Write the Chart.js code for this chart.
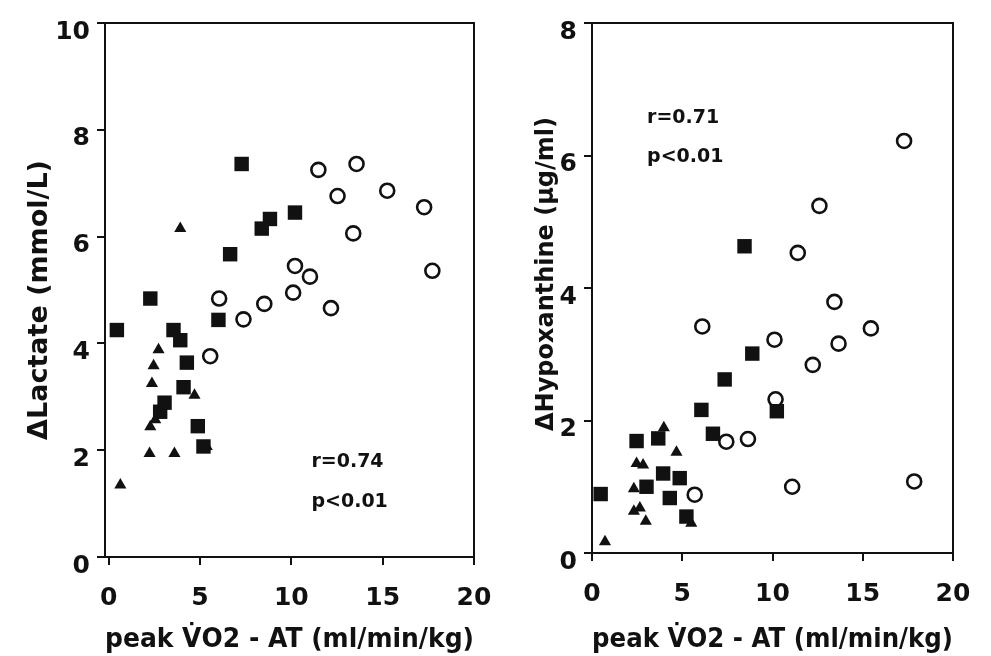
<!DOCTYPE html>
<html>
<head>
<meta charset="utf-8">
<script src="https://cdn.jsdelivr.net/npm/chart.js@4"></script>
<style>
  html, body { margin: 0; padding: 0; background: #fff; }
  #wrap { position: relative; width: 991px; height: 656px; }
  .panel { position: absolute; top: 0; height: 656px; }
  #left { left: 0; width: 495px; }
  #right { left: 495px; width: 496px; }
</style>
</head>
<body>
<div id="wrap">
  <div class="panel" id="left"><canvas id="lactateChart"></canvas></div>
  <div class="panel" id="right"><canvas id="hypoxChart"></canvas></div>
</div>
<script>
// x = peak VO2 - AT (ml/min/kg), y = delta value
const xTicks = [0, 5, 10, 15, 20];
const xTitle = "peak V\u0307O2 - AT (ml/min/kg)";

// ΔLactate (mmol/L)
const lactateTicks = [0, 2, 4, 6, 8, 10];
const lactateSquares = [
  [7.28, 7.36], [8.83, 6.33], [8.38, 6.15], [10.2, 6.45], [6.65, 5.67],
  [2.28, 4.84], [6.01, 4.44], [0.45, 4.25], [3.55, 4.25], [3.92, 4.06],
  [4.28, 3.64], [4.1, 3.18], [3.06, 2.89], [2.82, 2.72], [4.88, 2.45],
  [5.19, 2.07],
];
const lactateTriangles = [
  [3.92, 6.15], [2.73, 3.88], [2.46, 3.58], [2.37, 3.25], [4.7, 3.03],
  [2.55, 2.57], [2.28, 2.44], [5.37, 2.07], [2.24, 1.94], [3.6, 1.94],
  [0.64, 1.35],
];
const lactateCircles = [
  [11.48, 7.25], [13.57, 7.36], [12.53, 6.76], [15.25, 6.86], [17.27, 6.55],
  [13.39, 6.06], [10.2, 5.45], [11.02, 5.25], [17.72, 5.36], [6.05, 4.84],
  [10.1, 4.95], [8.52, 4.74], [7.38, 4.45], [12.17, 4.66], [5.56, 3.76],
];

// ΔHypoxanthine (µg/ml)
const hypoxTicks = [0, 2, 4, 6, 8];
const hypoxSquares = [
  [8.45, 4.63], [8.88, 3.01], [7.35, 2.62], [6.06, 2.16], [10.24, 2.14],
  [6.7, 1.8], [2.47, 1.69], [3.67, 1.73], [3.94, 1.2], [4.86, 1.13],
  [0.48, 0.89], [3.02, 1.0], [4.31, 0.83], [5.23, 0.55],
];
const hypoxTriangles = [
  [3.98, 1.89], [4.68, 1.52], [2.47, 1.35], [2.83, 1.33], [2.32, 0.97],
  [2.32, 0.63], [2.65, 0.68], [2.98, 0.48], [0.72, 0.17], [5.5, 0.45],
];
const hypoxCircles = [
  [17.29, 6.22], [12.6, 5.24], [11.4, 4.53], [13.43, 3.79], [6.11, 3.42],
  [15.45, 3.39], [10.11, 3.22], [13.66, 3.16], [12.23, 2.84], [10.17, 2.32],
  [7.44, 1.68], [8.64, 1.72], [5.69, 0.88], [11.09, 1.0], [17.85, 1.08],
];

// correlation notes, anchored in data units
const lactateNote = { lines: ["r=0.74", "p<0.01"], x: 11.1, y: [1.78, 1.03] };
const hypoxNote = { lines: ["r=0.71", "p<0.01"], x: 3.05, y: [6.57, 5.98] };

const FONT = "'DejaVu Sans', sans-serif";

function toPoints(pairs) {
  return pairs.map(([x, y]) => ({ x, y }));
}

// box round the plot area, y title (not centred in the scan), r / p text
const framePlugin = {
  id: "frame",
  afterDraw(chart, args, opts) {
    const { ctx, chartArea: a, scales } = chart;
    ctx.save();
    ctx.strokeStyle = "#111";
    ctx.lineWidth = 2;
    ctx.beginPath();
    ctx.moveTo(a.left, a.top);
    ctx.lineTo(a.right, a.top);
    ctx.lineTo(a.right, a.bottom);
    ctx.stroke();

    ctx.fillStyle = "#111";

    const t = opts.yTitle;
    ctx.save();
    ctx.translate(t.x, (a.top + a.bottom) / 2 + t.shift);
    ctx.rotate(-Math.PI / 2);
    ctx.font = "bold " + t.size + "px " + FONT;
    ctx.textAlign = "center";
    ctx.textBaseline = "middle";
    ctx.fillText(t.text, 0, 0);
    ctx.restore();

    const note = opts.note;
    ctx.font = "bold 19px " + FONT;
    ctx.textBaseline = "middle";
    ctx.textAlign = "left";
    note.lines.forEach((line, i) => {
      ctx.fillText(line, scales.x.getPixelForValue(note.x), scales.y.getPixelForValue(note.y[i]));
    });
    ctx.restore();
  },
};

function makeChart(canvasId, cfg) {
  const ctx = document.getElementById(canvasId).getContext("2d");
  return new Chart(ctx, {
    type: "scatter",
    data: {
      datasets: [
        {
          label: "squares",
          data: toPoints(cfg.squares),
          pointStyle: "rect",
          pointRadius: 10.2,
          backgroundColor: "#111",
          borderColor: "#111",
          borderWidth: 0,
        },
        {
          label: "triangles",
          data: toPoints(cfg.triangles),
          pointStyle: "triangle",
          pointRadius: 7,
          backgroundColor: "#111",
          borderColor: "#111",
          borderWidth: 0,
        },
        {
          label: "circles",
          data: toPoints(cfg.circles),
          pointStyle: "circle",
          pointRadius: 7,
          backgroundColor: "#fff",
          borderColor: "#111",
          borderWidth: 2.6,
        },
      ],
    },
    options: {
      responsive: false,
      animation: false,
      events: [],
      layout: { padding: { left: 0, right: cfg.padRight, top: 23, bottom: 0 } },
      plugins: {
        legend: { display: false },
        tooltip: { enabled: false },
        frame: { note: cfg.note, yTitle: cfg.yTitle },
      },
      scales: {
        x: {
          type: "linear",
          min: cfg.xMin,
          max: 20,
          afterBuildTicks: (scale) => {
            scale.ticks = xTicks.map((v) => ({ value: v }));
          },
          afterFit: (scale) => {
            scale.height = cfg.xAxisHeight;
            scale.paddingLeft = 0;
            scale.paddingRight = 0;
          },
          border: { display: true, color: "#111", width: 2 },
          grid: { drawOnChartArea: false, drawTicks: true, tickLength: 8, color: "#111", lineWidth: 2 },
          ticks: { color: "#111", padding: 18, maxRotation: 0, font: { family: FONT, size: 25, weight: "bold" } },
          title: {
            display: true,
            text: xTitle,
            color: "#111",
            padding: { top: 0, bottom: 0 },
            font: { family: FONT, size: 27, weight: "bold" },
          },
        },
        y: {
          type: "linear",
          min: 0,
          max: cfg.yMax,
          afterBuildTicks: (scale) => {
            scale.ticks = cfg.yTicks.map((v) => ({ value: v }));
          },
          afterFit: (scale) => {
            scale.width = cfg.yAxisWidth;
          },
          border: { display: true, color: "#111", width: 2 },
          grid: { drawOnChartArea: false, drawTicks: true, tickLength: 8, color: "#111", lineWidth: 2 },
          ticks: { color: "#111", padding: 7, labelOffset: 9, font: { family: FONT, size: 25, weight: "bold" } },
        },
      },
    },
    plugins: [framePlugin],
  });
}

document.getElementById("lactateChart").width = 495;
document.getElementById("lactateChart").height = 656;
document.getElementById("hypoxChart").width = 496;
document.getElementById("hypoxChart").height = 656;

makeChart("lactateChart", {
  squares: lactateSquares,
  triangles: lactateTriangles,
  circles: lactateCircles,
  yTicks: lactateTicks,
  yMax: 10,
  xMin: -0.2,
  yTitle: { text: "\u0394Lactate (mmol/L)", x: 40, shift: 10, size: 27 },
  yAxisWidth: 105,
  xAxisHeight: 99,
  padRight: 21,
  note: lactateNote,
});

makeChart("hypoxChart", {
  squares: hypoxSquares,
  triangles: hypoxTriangles,
  circles: hypoxCircles,
  yTicks: hypoxTicks,
  yMax: 8,
  xMin: 0,
  yTitle: { text: "\u0394Hypoxanthine (\u00b5g/ml)", x: 52, shift: -14, size: 24 },
  yAxisWidth: 97,
  xAxisHeight: 103,
  padRight: 38,
  note: hypoxNote,
});
</script>
</body>
</html>
